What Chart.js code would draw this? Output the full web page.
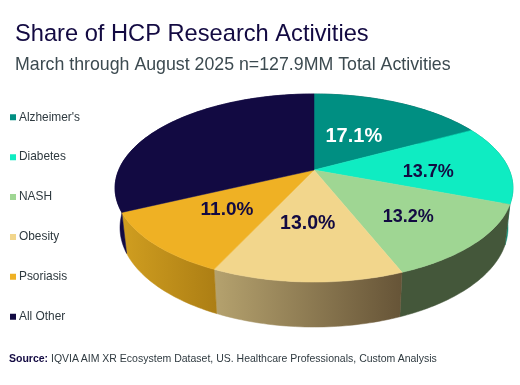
<!DOCTYPE html>
<html>
<head>
<meta charset="utf-8">
<style>
    html, body { margin: 0; padding: 0; background: #fff; }
    #wrap { position: relative; width: 520px; height: 385px; overflow: hidden; }
    #source { position: absolute; left: 9px; top: 352px; font: 10.5px "Liberation Sans", sans-serif; color: #2f3a40; white-space: nowrap; }
    #source b { color: #130a42; }
</style>
<script src="https://cdn.jsdelivr.net/npm/chart.js@4"></script>
</head>
<body>
<div id="wrap">
    <canvas id="pie" width="520" height="385"></canvas>
    <div id="source"><b>Source:</b> IQVIA AIM XR Ecosystem Dataset, US. Healthcare Professionals, Custom Analysis</div>
</div>
<script>
const categories = ["Alzheimer's", "Diabetes", "NASH", "Obesity", "Psoriasis", "All Other"];
const shares = [17.1, 13.7, 13.2, 13.0, 11.0, 32.1];
const shareLabels = ["17.1%", "13.7%", "13.2%", "13.0%", "11.0%", ""];

const topColors = ["#008f82", "#0fecc2", "#9fd693", "#f2d68c", "#efb124", "#120a42"];
const sideLeft = ["#00564e", "#098e75", "#44573a", "#b5a26e", "#d09e20", "#120a42"];
const sideRight = ["#00564e", "#098e75", "#44573a", "#665437", "#ac7e14", "#120a42"];
const labelColors = ["#ffffff", "#130a42", "#130a42", "#130a42", "#130a42", "#130a42"];
const labelSizes = [20, 18, 18, 19.5, 19, 0];
const labelReach = [0.45, 0.58, 0.62, 0.53, 0.57, 0];
const labelDx = [-2, 2, 0, -3, -2, 0];
const labelDy = [-1, 6, 4, 0, 0, 0];

// tilted disc: the centre of the pie sits above the centre of the ellipse
const view = { x: 314, y: 170, a: 195.3, b: 90.6, p: 0.1915, drop: 38.6, shrinkX: 0.975, shrinkY: 1.057 };

function project(angle, reach, lower) {
    const u = Math.cos(angle) * reach, v = Math.sin(angle) * reach;
    const d = 1 - view.p * v;
    return {
        x: view.x + (lower ? view.shrinkX : 1) * view.a * u / d,
        y: view.y + (lower ? view.drop : 0) + (lower ? view.shrinkY : 1) * view.b * v / d
    };
}

function rimPoints(start, end, lower) {
    const n = Math.max(2, Math.ceil((end - start) / 0.02));
    const pts = [];
    for (let i = 0; i <= n; i++) pts.push(project(start + (end - start) * i / n, 1, lower));
    return pts;
}

function fillPath(ctx, pts, fill) {
    ctx.beginPath();
    pts.forEach((p, i) => i ? ctx.lineTo(p.x, p.y) : ctx.moveTo(p.x, p.y));
    ctx.closePath();
    ctx.fillStyle = fill;
    ctx.strokeStyle = fill;
    ctx.lineWidth = 0.5;
    ctx.fill();
    ctx.stroke();
}

const tiltedPie = {
    id: "tiltedPie",
    afterLayout(chart) {
        // legend sits further out and lower than the layout would put it
        chart.legend.left = -15;
        chart.legend.top += 33.5;
        chart.legend.bottom += 33.5;
    },
    beforeDatasetDraw(chart, args) {
        const ctx = chart.ctx;
        const arcs = args.meta.data;
        ctx.save();
        // side wall first, the top face covers whatever is behind it
        arcs.forEach((arc, i) => {
            const { startAngle, endAngle } = arc.getProps(["startAngle", "endAngle"], true);
            const top = rimPoints(startAngle, endAngle, false);
            const low = rimPoints(startAngle, endAngle, true);
            const xs = top.concat(low).map(p => p.x);
            const g = ctx.createLinearGradient(Math.min(...xs), 0, Math.max(...xs), 0);
            g.addColorStop(0, sideLeft[i]);
            g.addColorStop(1, sideRight[i]);
            fillPath(ctx, top.concat(low.reverse()), g);
        });
        arcs.forEach((arc, i) => {
            const { startAngle, endAngle } = arc.getProps(["startAngle", "endAngle"], true);
            fillPath(ctx, [{ x: view.x, y: view.y }].concat(rimPoints(startAngle, endAngle, false)), topColors[i]);
        });
        ctx.textAlign = "center";
        ctx.textBaseline = "middle";
        arcs.forEach((arc, i) => {
            if (!shareLabels[i]) return;
            const { startAngle, endAngle } = arc.getProps(["startAngle", "endAngle"], true);
            const p = project((startAngle + endAngle) / 2, labelReach[i], false);
            ctx.font = "bold " + labelSizes[i] + "px 'Liberation Sans'";
            ctx.fillStyle = labelColors[i];
            ctx.fillText(shareLabels[i], p.x + labelDx[i], p.y + labelDy[i]);
        });
        ctx.restore();
        return false;
    }
};

Chart.defaults.font.family = "'Liberation Sans', Arial, sans-serif";

new Chart(document.getElementById("pie"), {
    type: "pie",
    data: {
        labels: categories,
        datasets: [{ data: shares, backgroundColor: topColors, borderWidth: 0 }]
    },
    options: {
        responsive: false,
        animation: false,
        layout: { padding: { left: 15, top: 20, bottom: 38 } },
        plugins: {
            title: {
                display: true,
                text: "Share of HCP Research Activities",
                align: "start",
                color: "#130a42",
                font: { size: 23.66, weight: "normal" },
                padding: { top: 0, bottom: 4 }
            },
            subtitle: {
                display: true,
                text: "March through August 2025 n=127.9MM Total Activities",
                align: "start",
                color: "#3c4a50",
                font: { size: 17.76, weight: "normal" },
                padding: { top: 2, bottom: 5 }
            },
            legend: {
                position: "left",
                labels: {
                    usePointStyle: true,
                    pointStyle: "rect",
                    boxWidth: 0.01,
                    boxHeight: 6,
                    padding: 28,
                    color: "#2f3a40",
                    font: { size: 11.9 }
                }
            },
            tooltip: { enabled: false }
        }
    },
    plugins: [tiltedPie]
});
</script>
</body>
</html>
